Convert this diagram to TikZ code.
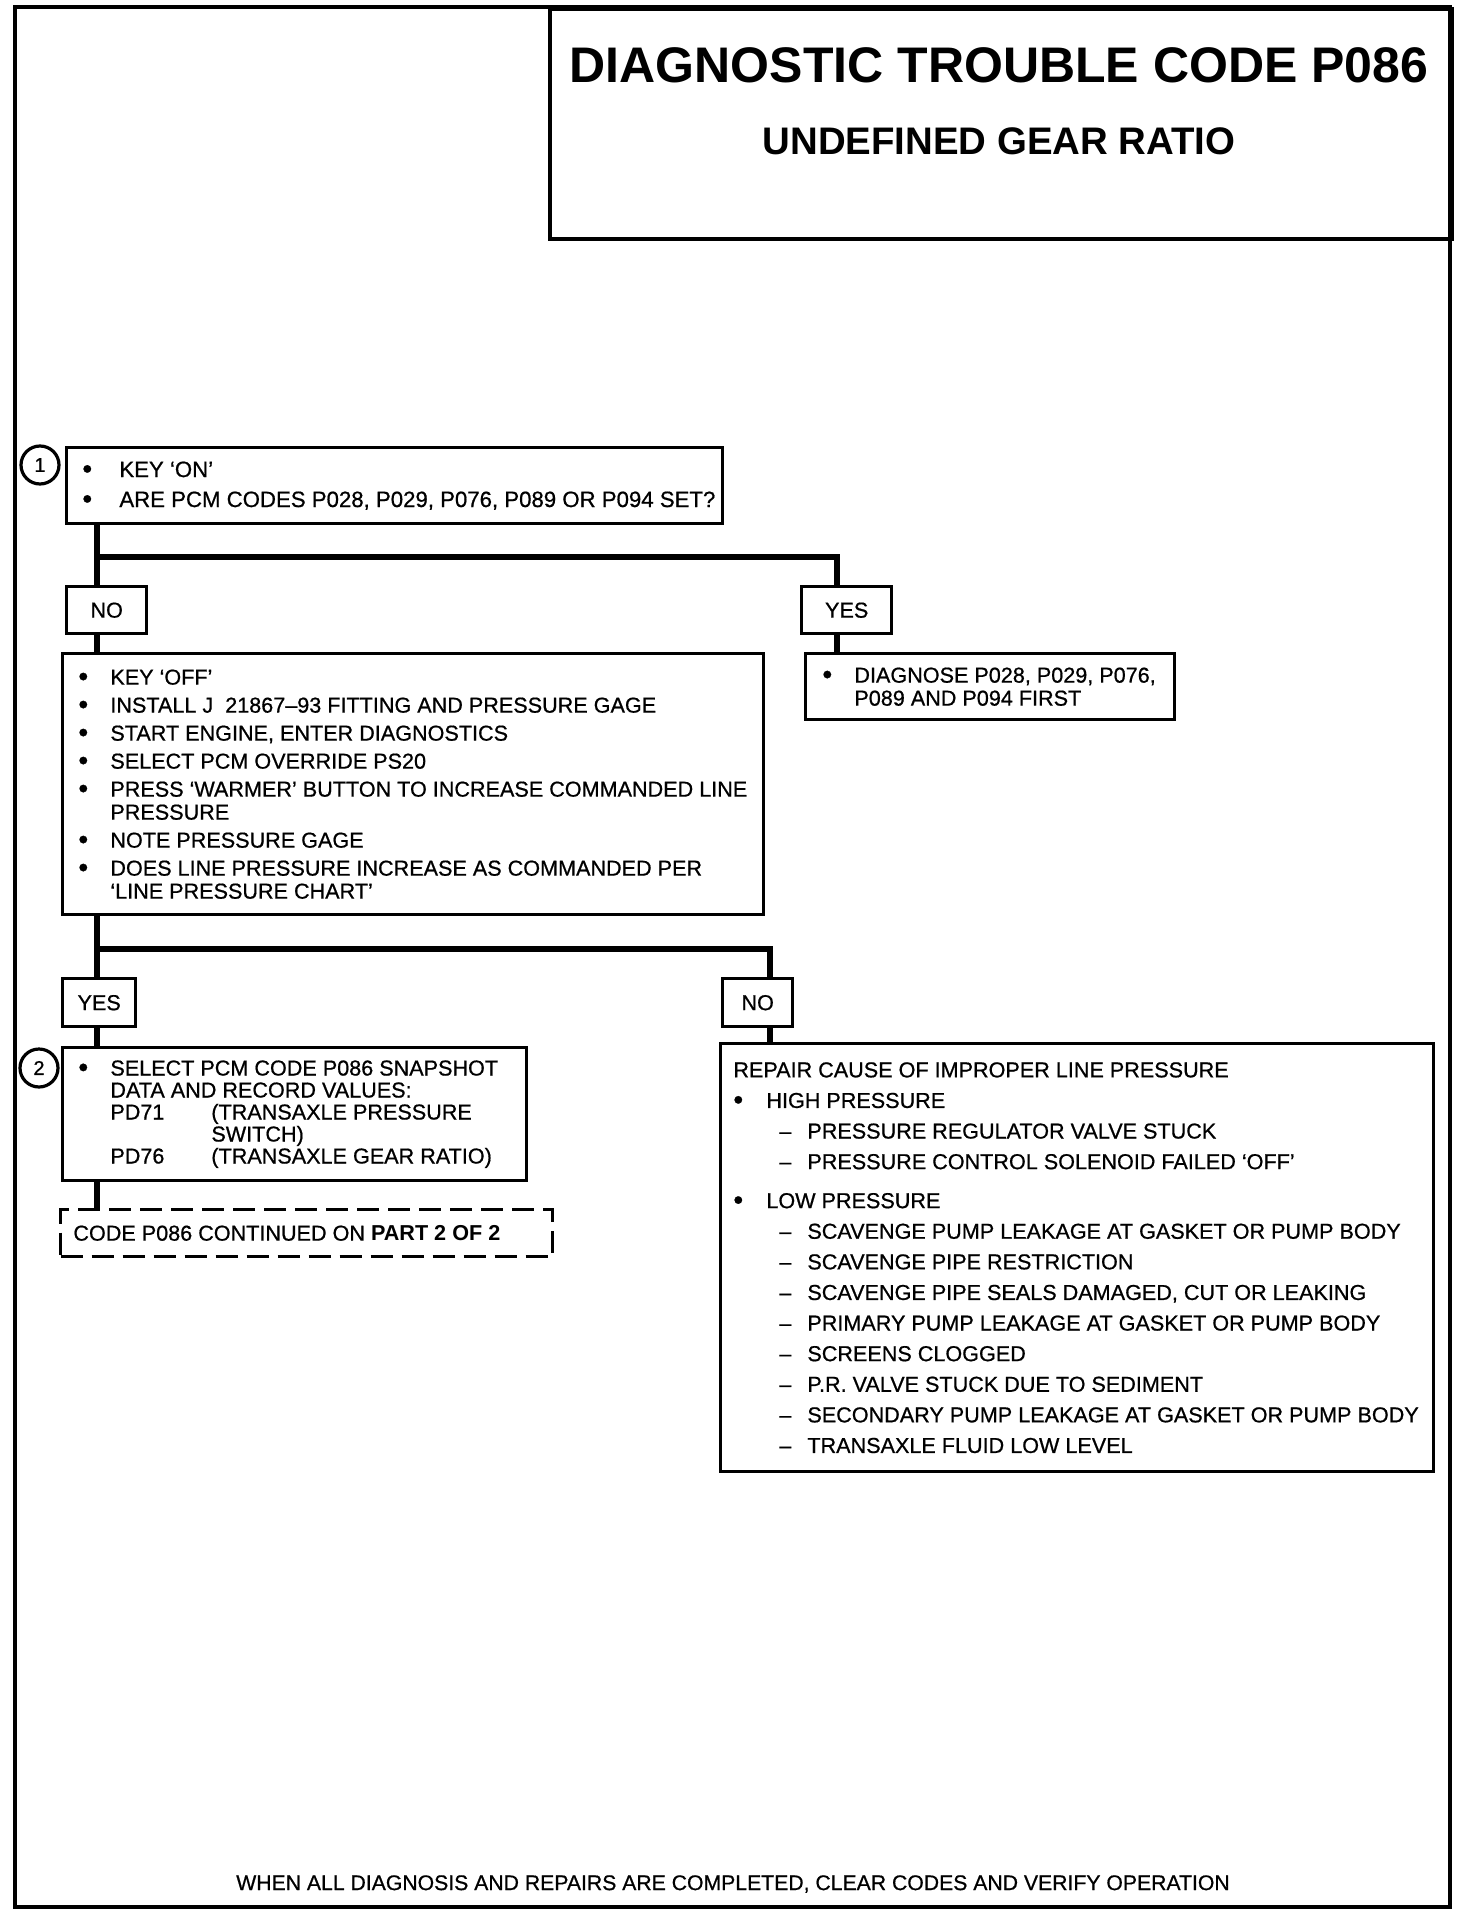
\documentclass[tikz,border=0pt]{standalone}
\usepackage{fontspec}
\setmainfont{Liberation Sans}[UprightFeatures={FakeBold=0.7}]
\newcommand{\bl}[1][16pt]{\makebox[#1][l]{\raisebox{-0.6pt}{\fontsize{14}{14}\selectfont\textbullet}}}
\newcommand{\dl}{\hspace*{23pt}\makebox[14pt][l]{--}}

\begin{document}
\begin{tikzpicture}[x=0.5pt, y=-0.5pt]
    \tikzstyle{box}=[draw, line width=1.7pt, anchor=north west, inner sep=0pt]
    \tikzstyle{txt}=[anchor=west, align=left, inner sep=0pt, font=\fontsize{10.8}{11.5}\selectfont]
    \tikzstyle{lbl}=[box, font=\fontsize{10.8}{11.5}\selectfont]
    \tikzstyle{num}=[draw, circle, line width=1.6pt, minimum size=19pt, inner sep=0pt, font=\fontsize{10}{12}\selectfont]
    \tikzstyle{link}=[line width=3pt]
    \def\ind{\hspace*{16pt}}

    \useasboundingbox (0,0) rectangle (1472,1914);
    \draw[line width=2pt] (15,7) rectangle (1450,1907);

    % heading
    \node[box, line width=2pt, minimum width=451pt, minimum height=115pt] (head) at (548,7) {};
    \node[font=\bfseries\fontsize{25}{30}\selectfont] (title) at (999,65) {DIAGNOSTIC TROUBLE CODE P086};
    \node[font=\bfseries\fontsize{19.2}{23}\selectfont] (subtitle) at (999,141) {UNDEFINED GEAR RATIO};

    % step 1
    \node[num] (n1) at (40,465) {1};
    \node[box, minimum width=328pt, minimum height=38pt] (keyon) at (65,446) {};
    \node[txt, font=\fontsize{11.1}{11.5}\selectfont] at ([xshift=8.5pt]keyon.west)
        {\bl[18.5pt]KEY `ON'\\[3.5pt]
         \bl[18.5pt]ARE PCM CODES P028, P029, P076, P089 OR P094 SET?};

    \coordinate (j1) at (97,557);
    \coordinate (j1r) at (837,557);
    \node[lbl, minimum width=40pt, minimum height=23.5pt] (no1) at (65,585) {NO};
    \node[lbl, minimum width=45pt, minimum height=23.5pt] (yes1) at (800,585) {YES};

    \node[box, minimum width=350.5pt, minimum height=130.5pt] (gage) at (61,652) {};
    \node[txt] at ([xshift=8.5pt]gage.west)
        {\bl KEY `OFF'\\[2.5pt]
         \bl INSTALL J\ \ 21867--93 FITTING AND PRESSURE GAGE\\[2.5pt]
         \bl START ENGINE, ENTER DIAGNOSTICS\\[2.5pt]
         \bl SELECT PCM OVERRIDE PS20\\[2.5pt]
         \bl PRESS `WARMER' BUTTON TO INCREASE COMMANDED LINE\\
         \ind PRESSURE\\[2.5pt]
         \bl NOTE PRESSURE GAGE\\[2.5pt]
         \bl DOES LINE PRESSURE INCREASE AS COMMANDED PER\\
         \ind `LINE PRESSURE CHART'};

    \node[box, minimum width=184.5pt, minimum height=33pt] (diag) at (804,652) {};
    \node[txt] at ([xshift=9pt]diag.west)
        {\bl DIAGNOSE P028, P029, P076,\\
         \ind P089 AND P094 FIRST};

    % step 2
    \coordinate (j2) at (97,949);
    \coordinate (j2r) at (770,949);
    \node[lbl, minimum width=36.5pt, minimum height=24pt] (yes2) at (61,977) {YES};
    \node[lbl, minimum width=35pt, minimum height=24pt] (no2) at (721,977) {NO};

    \node[num] (n2) at (39,1068) {2};
    \node[box, minimum width=232pt, minimum height=66.5pt] (snap) at (61,1046) {};
    \node[txt, font=\fontsize{10.8}{11}\selectfont] at ([xshift=8.5pt]snap.west)
        {\bl SELECT PCM CODE P086 SNAPSHOT\\
         \ind DATA AND RECORD VALUES:\\
         \ind\makebox[50.5pt][l]{PD71}(TRANSAXLE PRESSURE\\
         \hspace*{66.5pt}SWITCH)\\
         \ind\makebox[50.5pt][l]{PD76}(TRANSAXLE GEAR RATIO)};

    \node[box, dash pattern=on 11pt off 4.5pt, minimum width=246pt, minimum height=23.5pt] (cont) at (59,1208) {};
    \node[txt] at ([xshift=7pt]cont.west) {CODE P086 CONTINUED ON \textbf{PART 2 OF 2}};

    \node[box, minimum width=356.5pt, minimum height=214pt] (repair) at (719,1042) {};
    \node[txt, font=\fontsize{10.8}{15.3}\selectfont] at ([xshift=7pt]repair.west)
        {REPAIR CAUSE OF IMPROPER LINE PRESSURE\\
         \bl[16.5pt]HIGH PRESSURE\\
         \dl PRESSURE REGULATOR VALVE STUCK\\
         \dl PRESSURE CONTROL SOLENOID FAILED `OFF'\\[4.2pt]
         \bl[16.5pt]LOW PRESSURE\\
         \dl SCAVENGE PUMP LEAKAGE AT GASKET OR PUMP BODY\\
         \dl SCAVENGE PIPE RESTRICTION\\
         \dl SCAVENGE PIPE SEALS DAMAGED, CUT OR LEAKING\\
         \dl PRIMARY PUMP LEAKAGE AT GASKET OR PUMP BODY\\
         \dl SCREENS CLOGGED\\
         \dl P.R. VALVE STUCK DUE TO SEDIMENT\\
         \dl SECONDARY PUMP LEAKAGE AT GASKET OR PUMP BODY\\
         \dl TRANSAXLE FLUID LOW LEVEL};

    \node[font=\fontsize{10.6}{12}\selectfont] (foot) at (733,1884)
        {WHEN ALL DIAGNOSIS AND REPAIRS ARE COMPLETED, CLEAR CODES AND VERIFY OPERATION};

    % connectors
    \draw[link] (keyon.south -| j1) -- (no1.north -| j1);
    \draw[link] (j1) -| (yes1.north -| j1r);
    \draw[link] (no1.south -| j1) -- (gage.north -| j1);
    \draw[link] (yes1.south -| j1r) -- (diag.north -| j1r);
    \draw[link] (gage.south -| j2) -- (yes2.north -| j2);
    \draw[link] (j2) -| (no2.north -| j2r);
    \draw[link] (yes2.south -| j2) -- (snap.north -| j2);
    \draw[link] (no2.south -| j2r) -- (repair.north -| j2r);
    \draw[link] (snap.south -| j2) -- (cont.north -| j2);
\end{tikzpicture}
\end{document}
